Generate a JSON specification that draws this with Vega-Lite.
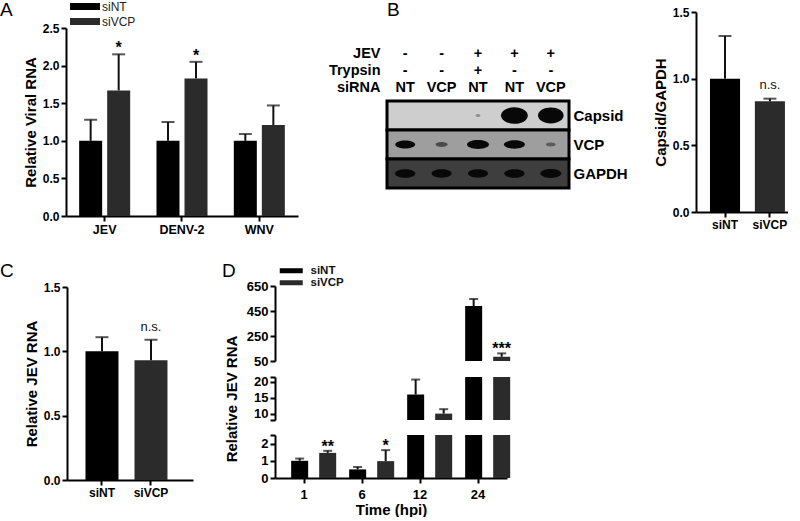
{
  "$schema": "https://vega.github.io/schema/vega-lite/v6.json",
  "usermeta": {"embedOptions": {"actions": false}},
  "padding": 0,
  "background": "white",
  "spacing": 0,
  "bounds": "flush",
  "align": "none",
  "columns": 3,
  "config": {
    "font": "Liberation Sans",
    "view": {"stroke": null},
    "axis": {"labelFont": "Liberation Sans", "labelFontWeight": "bold", "labelFontSize": 12, "labelColor": "#000", "titleFont": "Liberation Sans", "titleFontWeight": "bold", "titleFontSize": 15, "titleColor": "#000", "domainColor": "#000", "domainWidth": 2, "tickColor": "#000", "tickWidth": 2, "tickSize": 5, "grid": false, "labelPadding": 2, "titlePadding": 4},
    "legend": {"padding": 0, "labelFont": "Liberation Sans"},
    "title": {"font": "Liberation Sans", "fontSize": 19, "fontWeight": "normal", "anchor": "start", "frame": "group", "orient": "top", "color": "#000"},
    "text": {"font": "Liberation Sans"}
  },
  "resolve": {"scale": {"color": "independent", "x": "independent", "y": "independent"}, "legend": {"color": "independent"}},
  "concat": [
        {
          "width": 298, "height": 216,
          "title": {"text": "A", "offset": -20},
          "data": {"values": [
            {"virus": "JEV", "group": "siNT", "value": 1.0, "err": 1.28, "sig": ""},
            {"virus": "JEV", "group": "siVCP", "value": 1.67, "err": 2.15, "sig": "*"},
            {"virus": "DENV-2", "group": "siNT", "value": 1.0, "err": 1.25, "sig": ""},
            {"virus": "DENV-2", "group": "siVCP", "value": 1.83, "err": 2.05, "sig": "*"},
            {"virus": "WNV", "group": "siNT", "value": 1.0, "err": 1.09, "sig": ""},
            {"virus": "WNV", "group": "siVCP", "value": 1.21, "err": 1.47, "sig": ""}
          ]},
          "encoding": {
            "x": {"field": "virus", "type": "nominal", "sort": ["JEV", "DENV-2", "WNV"], "scale": {"range": [66, 298], "paddingInner": 0, "paddingOuter": 0}, "axis": {"title": null, "labelAngle": 0, "labelFontSize": 12.5}},
            "xOffset": {"field": "group", "type": "nominal", "sort": ["siNT", "siVCP"], "scale": {"paddingInner": 0, "paddingOuter": 0.38}},
            "y": {"field": "value", "type": "quantitative", "title": "Relative Viral RNA", "scale": {"domain": [0, 2.5], "range": [216, 28], "nice": false}, "axis": {"values": [0, 0.5, 1, 1.5, 2, 2.5], "format": ".1f", "offset": -66}}
          },
          "layer": [
            {"mark": {"type": "bar", "width": 23},
             "encoding": {"color": {"field": "group", "type": "nominal", "scale": {"domain": ["siNT", "siVCP"], "range": ["#000000", "#2b2b2b"]},
               "legend": {"orient": "none", "legendX": 79, "legendY": 0.5, "title": null, "symbolType": "M-2.5,-0.58L2.5,-0.58L2.5,0.58L-2.5,0.58Z", "symbolSize": 144, "labelOffset": 11, "rowPadding": 3, "labelFontSize": 12, "labelColor": "#222", "symbolStrokeWidth": 0}}}},
            {"mark": {"type": "rule", "color": "#111", "strokeWidth": 2},
             "encoding": {"y2": {"field": "err"}}},
            {"mark": {"type": "tick", "color": "#111", "thickness": 2, "size": 13},
             "encoding": {"y": {"field": "err", "type": "quantitative", "title": "Relative Viral RNA"}}},
            {"mark": {"type": "text", "fontSize": 16, "fontWeight": "bold", "baseline": "alphabetic", "dy": -1, "color": "#000"},
             "encoding": {"y": {"field": "err", "type": "quantitative", "title": "Relative Viral RNA"}, "text": {"field": "sig"}}}
          ]
        },
        {
          "width": 322, "height": 216,
          "title": {"text": "B", "offset": -20, "dx": 89},
          "layer": [
            {
              "data": {"values": [
                {"cond": "JEV", "lane": 1, "val": "-"}, {"cond": "JEV", "lane": 2, "val": "-"}, {"cond": "JEV", "lane": 3, "val": "+"}, {"cond": "JEV", "lane": 4, "val": "+"}, {"cond": "JEV", "lane": 5, "val": "+"},
                {"cond": "Trypsin", "lane": 1, "val": "-"}, {"cond": "Trypsin", "lane": 2, "val": "-"}, {"cond": "Trypsin", "lane": 3, "val": "+"}, {"cond": "Trypsin", "lane": 4, "val": "-"}, {"cond": "Trypsin", "lane": 5, "val": "-"},
                {"cond": "siRNA", "lane": 1, "val": "NT"}, {"cond": "siRNA", "lane": 2, "val": "VCP"}, {"cond": "siRNA", "lane": 3, "val": "NT"}, {"cond": "siRNA", "lane": 4, "val": "NT"}, {"cond": "siRNA", "lane": 5, "val": "VCP"}
              ]},
              "mark": {"type": "text", "fontWeight": "bold", "fontSize": 14.5, "color": "#000"},
              "encoding": {
                "x": {"field": "lane", "type": "quantitative", "scale": {"domain": [0.5, 5.5], "range": [89, 271], "nice": false, "zero": false}, "axis": null},
                "y": {"field": "cond", "type": "nominal", "sort": ["JEV", "Trypsin", "siRNA"], "scale": {"range": [45, 96], "paddingInner": 0, "paddingOuter": 0}, "axis": {"title": null, "orient": "left", "offset": -82, "domain": false, "ticks": false, "labelPadding": 0, "labelFontSize": 14.5}},
                "text": {"field": "val"}
              }
            },
            {
              "layer": [
                {
                  "data": {"values": [{"row": "Capsid"}, {"row": "VCP"}, {"row": "GAPDH"}]},
                  "mark": {"type": "rect", "stroke": "#000", "strokeWidth": 3},
                  "encoding": {
                    "x": {"datum": 0.5, "type": "quantitative"},
                    "x2": {"datum": 5.5},
                    "y": {"field": "row", "type": "nominal", "sort": ["Capsid", "VCP", "GAPDH"], "scale": {"range": [101, 188], "paddingInner": 0, "paddingOuter": 0}, "axis": {"title": null, "orient": "right", "offset": -47, "domain": false, "ticks": false, "labelPadding": 0, "labelFontSize": 15}},
                    "fill": {"field": "row", "type": "nominal", "scale": {"domain": ["Capsid", "VCP", "GAPDH"], "range": ["#cecece", "#9e9e9e", "#3e3e3e"]}, "legend": null}
                  }
                },
                {
                  "data": {"values": [
                    {"lane": 3, "row": "Capsid", "intensity": 0.03}, {"lane": 4, "row": "Capsid", "intensity": 0.9}, {"lane": 5, "row": "Capsid", "intensity": 0.82},
                    {"lane": 1, "row": "VCP", "intensity": 0.5}, {"lane": 2, "row": "VCP", "intensity": 0.18}, {"lane": 3, "row": "VCP", "intensity": 0.6}, {"lane": 4, "row": "VCP", "intensity": 0.55}, {"lane": 5, "row": "VCP", "intensity": 0.12},
                    {"lane": 1, "row": "GAPDH", "intensity": 0.52}, {"lane": 2, "row": "GAPDH", "intensity": 0.5}, {"lane": 3, "row": "GAPDH", "intensity": 0.5}, {"lane": 4, "row": "GAPDH", "intensity": 0.52}, {"lane": 5, "row": "GAPDH", "intensity": 0.55}
                  ]},
                  "mark": {"type": "point", "filled": true, "color": "#080808", "strokeWidth": 0},
                  "encoding": {
                    "x": {"field": "lane", "type": "quantitative"},
                    "y": {"field": "row", "type": "nominal", "sort": ["Capsid", "VCP", "GAPDH"]},
                    "size": {"field": "intensity", "type": "quantitative", "scale": {"domain": [0, 1], "range": [0, 800], "zero": true}, "legend": null},
                    "shape": {"field": "row", "type": "nominal", "scale": {"domain": ["Capsid", "VCP", "GAPDH"], "range": ["M-1,0A1,0.62 0 1,0 1,0A1,0.62 0 1,0 -1,0Z", "M-1,0A1,0.4 0 1,0 1,0A1,0.4 0 1,0 -1,0Z", "M-1,0A1,0.42 0 1,0 1,0A1,0.42 0 1,0 -1,0Z"]}, "legend": null},
                    "opacity": {"field": "intensity", "type": "quantitative", "scale": {"domain": [0, 0.45], "range": [0.25, 1], "clamp": true}, "legend": null}
                  }
                }
              ]
            }
          ],
          "resolve": {"scale": {"y": "independent"}, "axis": {"y": "independent"}}
        },
        {
          "width": 168, "height": 216,
          "data": {"values": [
            {"g": "siNT", "value": 1.0, "err": 1.32, "sig": ""},
            {"g": "siVCP", "value": 0.83, "err": 0.85, "sig": "n.s."}
          ]},
          "encoding": {
            "x": {"field": "g", "type": "nominal", "sort": ["siNT", "siVCP"], "scale": {"range": [76, 168], "paddingInner": 0.33, "paddingOuter": 0.19, "align": 0.82}, "axis": {"title": null, "labelAngle": 0, "offset": -4}},
            "y": {"field": "value", "type": "quantitative", "title": "Capsid/GAPDH", "scale": {"domain": [0, 1.5], "range": [212, 12], "nice": false}, "axis": {"values": [0, 0.5, 1, 1.5], "format": ".1f", "offset": -76}}
          },
          "layer": [
            {"mark": {"type": "bar"},
             "encoding": {"color": {"field": "g", "type": "nominal", "scale": {"domain": ["siNT", "siVCP"], "range": ["#000000", "#2b2b2b"]}, "legend": null}}},
            {"mark": {"type": "rule", "color": "#111", "strokeWidth": 2},
             "encoding": {"y2": {"field": "err"}}},
            {"mark": {"type": "tick", "color": "#111", "thickness": 2, "size": 13},
             "encoding": {"y": {"field": "err", "type": "quantitative", "title": "Capsid/GAPDH"}}},
            {"mark": {"type": "text", "fontSize": 13, "baseline": "alphabetic", "dy": -10, "color": "#111"},
             "encoding": {"y": {"field": "err", "type": "quantitative", "title": "Capsid/GAPDH"}, "text": {"field": "sig"}}}
          ]
        },
        {
          "width": 193, "height": 264,
          "title": {"text": "C", "offset": -65},
          "data": {"values": [
            {"g": "siNT", "value": 1.0, "err": 1.11, "sig": ""},
            {"g": "siVCP", "value": 0.93, "err": 1.09, "sig": "n.s."}
          ]},
          "encoding": {
            "x": {"field": "g", "type": "nominal", "sort": ["siNT", "siVCP"], "scale": {"range": [67, 193], "paddingInner": 0.327, "paddingOuter": 0.449, "align": 0.42}, "axis": {"title": null, "labelAngle": 0}},
            "y": {"field": "value", "type": "quantitative", "title": "Relative JEV RNA", "scale": {"domain": [0, 1.5], "range": [264, 71], "nice": false}, "axis": {"values": [0, 0.5, 1, 1.5], "format": ".1f", "offset": -67}}
          },
          "layer": [
            {"mark": {"type": "bar"},
             "encoding": {"color": {"field": "g", "type": "nominal", "scale": {"domain": ["siNT", "siVCP"], "range": ["#000000", "#2b2b2b"]}, "legend": null}}},
            {"mark": {"type": "rule", "color": "#111", "strokeWidth": 2},
             "encoding": {"y2": {"field": "err"}}},
            {"mark": {"type": "tick", "color": "#111", "thickness": 2, "size": 13},
             "encoding": {"y": {"field": "err", "type": "quantitative", "title": "Relative JEV RNA"}}},
            {"mark": {"type": "text", "fontSize": 13, "baseline": "alphabetic", "dy": -9, "color": "#111"},
             "encoding": {"y": {"field": "err", "type": "quantitative", "title": "Relative JEV RNA"}, "text": {"field": "sig"}}}
          ]
        },
        {
          "width": 209, "height": 262,
          "title": {"text": "D", "offset": -65, "dx": -76},
          "data": {"values": [
            {"t": "1", "g": "siNT", "value": 1.0, "err": 1.13, "sig": ""},
            {"t": "1", "g": "siVCP", "value": 1.46, "err": 1.58, "sig": "**"},
            {"t": "6", "g": "siNT", "value": 0.5, "err": 0.64, "sig": ""},
            {"t": "6", "g": "siVCP", "value": 0.98, "err": 1.62, "sig": "*"},
            {"t": "12", "g": "siNT", "value": 16, "err": 20.7, "sig": ""},
            {"t": "12", "g": "siVCP", "value": 10, "err": 11.4, "sig": ""},
            {"t": "24", "g": "siNT", "value": 490, "err": 546, "sig": ""},
            {"t": "24", "g": "siVCP", "value": 84, "err": 111, "sig": "***"}
          ]},
          "encoding": {
            "x": {"field": "t", "type": "ordinal", "sort": ["1", "6", "12", "24"], "scale": {"range": [-23, 209], "paddingInner": 0, "paddingOuter": 0}, "axis": {"title": "Time (hpi)", "labelAngle": 0, "labelFontSize": 13, "labelPadding": 5, "titlePadding": 1}},
            "xOffset": {"field": "g", "type": "nominal", "sort": ["siNT", "siVCP"], "scale": {"paddingInner": 0.19, "paddingOuter": 0.475}}
          },
          "layer": [
            {
              "encoding": {"y": {"field": "value", "type": "quantitative", "title": null, "scale": {"domain": [50, 650], "range": [145, 70], "clamp": true, "nice": false, "zero": false}, "axis": {"orient": "left", "values": [50, 250, 450, 650], "offset": 23, "labelFontSize": 13}}},
              "layer": [
                {"mark": {"type": "bar", "width": 17},
                 "encoding": {"y2": {"datum": 50},
                   "color": {"field": "g", "type": "nominal", "scale": {"domain": ["siNT", "siVCP"], "range": ["#000000", "#2b2b2b"]},
                   "legend": {"orient": "none", "legendX": -12.5, "legendY": 49, "title": null, "symbolType": "M-2.3,-0.5L2.3,-0.5L2.3,0.5L-2.3,0.5Z", "symbolSize": 100, "labelOffset": 13.5, "rowPadding": -3, "labelFontSize": 11.5, "labelFontWeight": "bold", "labelColor": "#111", "symbolStrokeWidth": 0}}}},
                {"transform": [{"filter": "datum.value >= 50"}],
                 "mark": {"type": "rule", "color": "#111", "strokeWidth": 2},
                 "encoding": {"y2": {"field": "err"}}},
                {"transform": [{"filter": "datum.value >= 50"}],
                 "mark": {"type": "tick", "color": "#111", "thickness": 2, "size": 9},
                 "encoding": {"y": {"field": "err", "type": "quantitative", "title": null}}},
                {"transform": [{"filter": "datum.value >= 50"}],
                 "mark": {"type": "text", "fontSize": 16, "fontWeight": "bold", "baseline": "alphabetic", "dy": 1, "color": "#000"},
                 "encoding": {"y": {"field": "err", "type": "quantitative", "title": null}, "text": {"field": "sig"}}}
              ]
            },
            {
              "encoding": {"y": {"field": "value", "type": "quantitative", "title": "Relative JEV RNA", "scale": {"domain": [8, 21.5], "range": [204, 161], "clamp": true, "nice": false, "zero": false}, "axis": {"orient": "left", "values": [8, 10, 15, 20, 21.5], "labelExpr": "datum.value == 8 || datum.value == 21.5 ? '' : datum.label", "offset": 23, "labelFontSize": 13, "titlePadding": 14}}},
              "layer": [
                {"mark": {"type": "bar", "width": 17},
                 "encoding": {"y2": {"datum": 8},
                   "color": {"field": "g", "type": "nominal", "scale": {"domain": ["siNT", "siVCP"], "range": ["#000000", "#2b2b2b"]}}}},
                {"transform": [{"filter": "datum.value >= 8 && datum.value < 50"}],
                 "mark": {"type": "rule", "color": "#111", "strokeWidth": 2},
                 "encoding": {"y2": {"field": "err"}}},
                {"transform": [{"filter": "datum.value >= 8 && datum.value < 50"}],
                 "mark": {"type": "tick", "color": "#111", "thickness": 2, "size": 9},
                 "encoding": {"y": {"field": "err", "type": "quantitative", "title": "Relative JEV RNA"}}}
              ]
            },
            {
              "encoding": {"y": {"field": "value", "type": "quantitative", "title": null, "scale": {"domain": [0, 2.5], "range": [262, 219], "clamp": true, "nice": false}, "axis": {"orient": "left", "values": [0, 1, 2, 2.5], "labelExpr": "datum.value == 2.5 ? '' : '' + datum.value", "offset": 23, "labelFontSize": 13}}},
              "layer": [
                {"mark": {"type": "bar", "width": 17},
                 "encoding": {"color": {"field": "g", "type": "nominal", "scale": {"domain": ["siNT", "siVCP"], "range": ["#000000", "#2b2b2b"]}}}},
                {"transform": [{"filter": "datum.value < 8"}],
                 "mark": {"type": "rule", "color": "#111", "strokeWidth": 2},
                 "encoding": {"y2": {"field": "err"}}},
                {"transform": [{"filter": "datum.value < 8"}],
                 "mark": {"type": "tick", "color": "#111", "thickness": 2, "size": 9},
                 "encoding": {"y": {"field": "err", "type": "quantitative", "title": null}}},
                {"transform": [{"filter": "datum.value < 8"}],
                 "mark": {"type": "text", "fontSize": 16, "fontWeight": "bold", "baseline": "alphabetic", "dy": 1, "color": "#000"},
                 "encoding": {"y": {"field": "err", "type": "quantitative", "title": null}, "text": {"field": "sig"}}}
              ]
            }
          ],
          "resolve": {"scale": {"y": "independent"}, "axis": {"y": "independent"}}
        }
  ]
}
